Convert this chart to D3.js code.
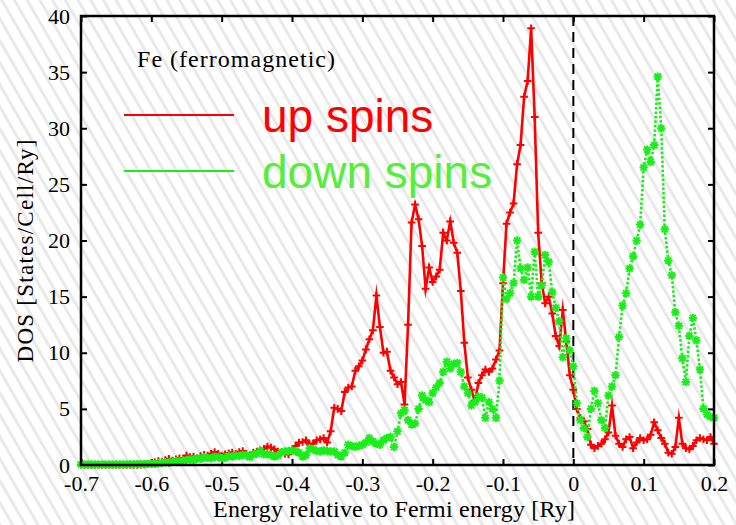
<!DOCTYPE html>
<html>
<head>
<meta charset="utf-8">
<script src="https://cdn.jsdelivr.net/npm/d3@7"></script>
<style>
  html, body { margin: 0; padding: 0; background: #fff; }
  svg { display: block; }
</style>
</head>
<body>
<svg id="chart" width="736" height="525"></svg>
<script>
// Energy grid relative to the Fermi level (Ry)
const energy = [
  -0.700,-0.695,-0.690,-0.685,-0.680,-0.675,-0.670,-0.665,-0.660,-0.655,
  -0.650,-0.645,-0.640,-0.635,-0.630,-0.625,-0.620,-0.615,-0.610,-0.605,
  -0.600,
  -0.595,-0.590,-0.585,-0.580,-0.575,-0.570,-0.565,-0.560,-0.555,-0.550,
  -0.545,-0.540,-0.535,-0.530,-0.525,-0.520,-0.515,-0.510,-0.505,-0.500,
  -0.495,-0.490,-0.485,-0.480,-0.475,-0.470,-0.465,-0.460,-0.455,-0.450,
  -0.445,-0.440,-0.435,-0.430,-0.425,-0.420,-0.415,-0.410,-0.405,-0.400,
  -0.395,-0.390,-0.385,-0.380,-0.375,-0.370,-0.365,-0.360,-0.355,-0.350,
  -0.345,-0.340,-0.335,-0.330,-0.325,-0.320,-0.315,-0.310,-0.305,-0.300,
  -0.295,-0.290,-0.285,-0.280,-0.275,-0.270,-0.265,-0.260,-0.255,-0.250,
  -0.245,-0.240,-0.235,-0.230,-0.225,-0.220,-0.215,-0.210,-0.205,-0.200,
  -0.195,-0.190,-0.185,-0.180,-0.175,-0.170,-0.165,-0.160,-0.155,-0.150,
  -0.145,-0.140,-0.135,-0.130,-0.125,-0.120,-0.115,-0.110,-0.105,-0.100,
  -0.095,-0.090,-0.085,-0.080,-0.075,-0.070,-0.065,-0.060,-0.055,-0.050,
  -0.045,-0.040,-0.035,-0.030,-0.025,-0.020,-0.015,-0.010,-0.005, 0.000,
   0.005, 0.010, 0.015, 0.020, 0.025, 0.030, 0.035, 0.040, 0.045, 0.050,
   0.055, 0.060, 0.065, 0.070, 0.075, 0.080, 0.085, 0.090, 0.095, 0.100,
   0.105, 0.110, 0.115, 0.120, 0.125, 0.130, 0.135, 0.140, 0.145, 0.150,
   0.155, 0.160, 0.165, 0.170, 0.175, 0.180, 0.185, 0.190, 0.195, 0.200
];

// Density of states, majority (up) spins
const upSpins = [
  0,0,0,0,0,0,0,0,0,0,
  0,0,0,0,0,0,0,0.02,0.05,0.1,
  0.15,
  0.25,0.35,0.3,0.45,0.55,0.4,0.5,0.6,0.55,0.85,
  0.7,0.75,0.65,0.8,0.9,0.85,1.0,1.15,1.0,0.85,
  0.95,1.05,1.1,1.0,1.15,1.25,1.0,0.85,1.1,1.2,
  1.3,1.45,1.65,1.55,1.4,1.2,1.1,1.0,0.95,1.3,
  1.7,2.0,2.05,2.2,1.85,1.9,2.2,2.3,2.4,2.0,
  3.0,5.1,5.0,4.8,6.5,6.9,7.0,8.4,8.8,9.3,
  10.3,11.2,12.0,15.1,12.3,10.0,10.1,8.4,7.8,7.2,
  7.4,5.4,12.5,21.6,23.2,21.9,19.5,15.7,17.6,16.3,
  16.8,17.4,20.7,20.0,21.7,19.8,18.9,15.5,10.9,7.8,
  6.7,5.7,7.3,8.0,8.5,8.3,8.6,9.4,10.2,16.2,
  21.5,22.5,23.3,26.8,28.5,32.8,34.2,38.9,31.0,20.7,
  16.2,14.4,15.0,13.5,11.5,10.6,13.8,11.0,8.0,6.7,
  5.0,4.2,3.9,3.2,1.8,1.5,1.7,1.9,2.3,2.9,
  5.3,2.6,1.9,1.6,2.3,2.5,1.5,2.0,2.4,2.2,
  2.3,2.7,3.8,3.1,2.4,1.9,1.1,1.0,1.6,4.2,
  1.9,1.5,1.4,1.7,2.2,2.4,2.3,2.2,2.5,1.9
];

// Density of states, minority (down) spins
const downSpins = [
  0.05,0.05,0.05,0.05,0.05,0.05,0.05,0.05,0.05,0.05,
  0.05,0.05,0.06,0.06,0.07,0.07,0.08,0.08,0.09,0.1,
  0.1,
  0.1,0.15,0.2,0.25,0.2,0.3,0.35,0.3,0.4,0.45,
  0.5,0.45,0.6,0.55,0.7,0.65,0.6,0.75,0.7,0.6,
  0.65,0.8,0.75,0.85,0.8,0.9,0.85,0.7,0.95,1.0,
  1.25,0.95,1.0,0.9,0.75,0.85,1.15,1.2,1.25,1.3,
  1.2,1.1,0.75,0.9,1.5,1.4,1.25,1.2,1.3,1.25,
  1.2,1.2,0.9,0.75,1.1,1.8,1.7,1.6,1.7,1.8,
  2.0,2.4,2.1,1.9,1.8,2.2,2.4,2.5,1.6,3.0,
  4.6,4.9,4.0,3.6,3.7,5.0,6.2,5.8,5.6,6.4,
  6.9,7.3,8.3,9.2,8.6,9.0,9.1,8.3,7.0,6.4,
  5.3,5.6,6.1,6.0,4.2,5.6,5.0,4.2,7.5,16.7,
  14.8,15.3,16.2,20.0,17.5,16.5,17.6,15.0,19.0,15.0,
  16.0,18.7,18.1,15.4,14.0,12.8,9.6,11.3,10.2,8.8,
  5.5,4.0,3.3,2.5,5.0,6.6,5.5,4.0,3.3,6.2,
  7.0,8.0,11.4,14.2,15.3,17.5,18.6,20.0,21.4,26.5,
  28.1,27.0,28.5,34.6,30.0,21.0,18.2,16.9,13.6,12.4,
  9.5,7.4,11.5,13.1,11.1,8.5,5.0,4.5,4.3,4.2
];

const xTicks = [-0.7, -0.6, -0.5, -0.4, -0.3, -0.2, -0.1, 0, 0.1, 0.2];
const yTicks = [0, 5, 10, 15, 20, 25, 30, 35, 40];

const seriesNames = ["up spins", "down spins"];
const seriesColors = ["#ff0000", "#1aee1a"];
const legendTextColors = ["#ff0000", "#55ee3c"];

const W = 736, H = 525;
const plot = { left: 81, right: 714, top: 16, bottom: 465 };

const svg = d3.select("#chart");

// hatched backdrop
const defs = svg.append("defs");
const hatch = defs.append("pattern")
  .attr("id", "hatch")
  .attr("patternUnits", "userSpaceOnUse")
  .attr("width", 11).attr("height", 11)
  .attr("patternTransform", "rotate(-30)");
hatch.append("rect").attr("width", 11).attr("height", 11).attr("fill", "#ffffff");
hatch.append("rect").attr("x", 0).attr("width", 3).attr("height", 11).attr("fill", "#e9e9e9");
svg.append("rect").attr("width", W).attr("height", H).attr("fill", "url(#hatch)");

const x = d3.scaleLinear().domain([-0.7, 0.2]).range([plot.left, plot.right]);
const y = d3.scaleLinear().domain([0, 40]).range([plot.bottom, plot.top]);

const serif = "'Liberation Serif', 'Times New Roman', serif";
const fmt = d => (d === 0 ? "0" : String(d));

function styleAxis(g, withLabels) {
  g.select(".domain").remove();
  g.selectAll(".tick line").attr("stroke", "#000").attr("stroke-width", 2);
  g.selectAll(".tick text")
    .attr("fill", "#000")
    .style("font-family", serif)
    .style("font-size", "22px");
  if (!withLabels) g.selectAll(".tick text").remove();
}

svg.append("g")
  .attr("transform", `translate(0,${plot.bottom})`)
  .call(d3.axisBottom(x).tickValues(xTicks).tickFormat(fmt).tickSize(-6).tickPadding(10))
  .call(g => styleAxis(g, true));

svg.append("g")
  .attr("transform", `translate(0,${plot.top})`)
  .call(d3.axisTop(x).tickValues(xTicks).tickSize(-6))
  .call(g => styleAxis(g, false));

svg.append("g")
  .attr("transform", `translate(${plot.left},0)`)
  .call(d3.axisLeft(y).tickValues(yTicks).tickFormat(fmt).tickSize(-6).tickPadding(11))
  .call(g => styleAxis(g, true));

svg.append("g")
  .attr("transform", `translate(${plot.right},0)`)
  .call(d3.axisRight(y).tickValues(yTicks).tickSize(-6))
  .call(g => styleAxis(g, false));

// Fermi level
svg.append("line")
  .attr("x1", x(0)).attr("x2", x(0))
  .attr("y1", y(40)).attr("y2", y(0))
  .attr("stroke", "#000").attr("stroke-width", 2)
  .attr("stroke-dasharray", "10,6");

// DOS curves
const rows = energy.map((e, i) => ({ e, up: upSpins[i], down: downSpins[i] }));
const line = key => d3.line().x(d => x(d.e)).y(d => y(d[key]));

const gUp = svg.append("g");
gUp.append("path")
  .datum(rows)
  .attr("d", line("up"))
  .attr("fill", "none")
  .attr("stroke", seriesColors[0])
  .attr("stroke-width", 2.6)
  .attr("stroke-linejoin", "miter")
  .attr("stroke-miterlimit", 10);
const plusSize = 3.8;
gUp.selectAll("path.mark")
  .data(rows)
  .join("path")
  .attr("class", "mark")
  .attr("d", d => {
    const cx = x(d.e), cy = y(d.up);
    return `M${cx - plusSize},${cy}H${cx + plusSize}M${cx},${cy - plusSize}V${cy + plusSize}`;
  })
  .attr("stroke", seriesColors[0])
  .attr("stroke-width", 2);

const gDown = svg.append("g");
gDown.append("path")
  .datum(rows)
  .attr("d", line("down"))
  .attr("fill", "none")
  .attr("stroke", seriesColors[1])
  .attr("stroke-width", 2.6)
  .attr("stroke-dasharray", "2.5,2");
const starSize = 4.2, diag = 3.1;
gDown.selectAll("path.mark")
  .data(rows)
  .join("path")
  .attr("class", "mark")
  .attr("d", d => {
    const cx = x(d.e), cy = y(d.down);
    return `M${cx - starSize},${cy}H${cx + starSize}M${cx},${cy - starSize}V${cy + starSize}` +
           `M${cx - diag},${cy - diag}L${cx + diag},${cy + diag}M${cx - diag},${cy + diag}L${cx + diag},${cy - diag}`;
  })
  .attr("stroke", seriesColors[1])
  .attr("stroke-width", 2);

// frame
svg.append("rect")
  .attr("x", plot.left).attr("y", plot.top)
  .attr("width", plot.right - plot.left).attr("height", plot.bottom - plot.top)
  .attr("fill", "none").attr("stroke", "#000").attr("stroke-width", 2.5);

// labels
svg.append("text")
  .attr("x", 137).attr("y", 67)
  .attr("textLength", 198).attr("lengthAdjust", "spacing")
  .style("font-family", serif).style("font-size", "24px")
  .text("Fe (ferromagnetic)");

svg.append("text")
  .attr("transform", "translate(33,251) rotate(-90)")
  .attr("text-anchor", "middle")
  .attr("textLength", 223).attr("lengthAdjust", "spacing")
  .style("font-family", serif).style("font-size", "23px")
  .text("DOS [States/Cell/Ry]");

svg.append("text")
  .attr("x", 394).attr("y", 517)
  .attr("text-anchor", "middle")
  .attr("textLength", 362).attr("lengthAdjust", "spacing")
  .style("font-family", serif).style("font-size", "24px")
  .text("Energy relative to Fermi energy [Ry]");

// legend
const legendY = [115, 171];
const legendBase = [132, 188];
seriesNames.forEach((name, i) => {
  svg.append("line")
    .attr("x1", 124).attr("x2", 234)
    .attr("y1", legendY[i]).attr("y2", legendY[i])
    .attr("stroke", seriesColors[i]).attr("stroke-width", 1.8);
  svg.append("text")
    .attr("x", 262).attr("y", legendBase[i])
    .attr("fill", legendTextColors[i])
    .style("font-family", "'Liberation Sans', Arial, sans-serif")
    .style("font-size", "46px")
    .text(name);
});
</script>
</body>
</html>
